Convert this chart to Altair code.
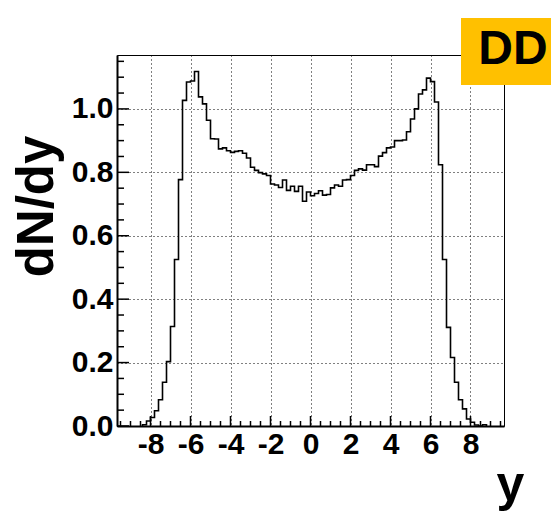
import altair as alt
import pandas as pd

# ---- data (histogram, bin width 0.2) ----
FIRST_EDGE = -8.4
BIN_WIDTH = 0.2
dndy = [0.004, 0.016, 0.027, 0.048, 0.083, 0.138, 0.203, 0.314, 0.525, 0.777,
        1.027, 1.085, 1.088, 1.118, 1.038, 1.016, 0.964, 0.906, 0.905, 0.874,
        0.877, 0.868, 0.863, 0.866, 0.868, 0.860, 0.845, 0.816, 0.806, 0.799,
        0.795, 0.790, 0.763, 0.760, 0.752, 0.776, 0.743, 0.756, 0.740, 0.756,
        0.709, 0.738,
        0.726, 0.733, 0.742, 0.728, 0.730, 0.751, 0.760, 0.756, 0.776, 0.777,
        0.790, 0.806, 0.811, 0.807, 0.824, 0.824, 0.818, 0.851, 0.862, 0.877,
        0.880, 0.900, 0.900, 0.902, 0.928, 0.968, 1.000, 1.047, 1.060, 1.097,
        1.086, 1.022, 0.824, 0.525, 0.311, 0.216, 0.138, 0.083, 0.054, 0.022,
        0.012, 0.003, 0.000, 0.004]

x_major = [-8, -6, -4, -2, 0, 2, 4, 6, 8]
x_minor = [-9.5, -9, -8.5, -7.5, -7, -6.5, -5.5, -5, -4.5, -3.5, -3, -2.5,
           -1.5, -1, -0.5, 0.5, 1, 1.5, 2.5, 3, 3.5, 4.5, 5, 5.5, 6.5, 7, 7.5,
           8.5, 9, 9.5]
y_major = [0.0, 0.2, 0.4, 0.6, 0.8, 1.0]
y_minor = [0.05, 0.1, 0.15, 0.25, 0.3, 0.35, 0.45, 0.5, 0.55, 0.65, 0.7, 0.75,
           0.85, 0.9, 0.95, 1.05, 1.1, 1.15]

X_DOMAIN = [-9.675, 9.675]
Y_DOMAIN = [0, 1.17]
W, H = 387, 371
FONT = "Liberation Sans"

# ---- histogram outline points ----
edges = [round(FIRST_EDGE + BIN_WIDTH * i, 3) for i in range(len(dndy) + 1)]
rows = [{"x": edges[0], "v": 0.0, "o": 0}]
for i, v in enumerate(dndy):
    rows.append({"x": edges[i], "v": v, "o": i + 1})
rows.append({"x": edges[-1], "v": 0.0, "o": len(dndy) + 1})
hist_df = pd.DataFrame(rows)

xs = alt.Scale(domain=X_DOMAIN, nice=False, zero=False)
ys = alt.Scale(domain=Y_DOMAIN, nice=False, zero=False)

x_axis = alt.Axis(
    values=x_major, grid=True, gridDash=[1, 3], gridColor="black", gridWidth=1,
    ticks=False, domain=True, domainColor="black", domainWidth=2,
    labelFont=FONT, labelFontSize=30, labelFontWeight="bold", labelColor="black",
    labelPadding=3, labelExpr="'' + datum.value",
    title="y", titleFont=FONT, titleFontSize=50, titleFontWeight="bold",
    titleColor="black", titleX=393, titleY=74, titleAlign="center",
    titleBaseline="alphabetic",
)
y_axis = alt.Axis(
    values=y_major, grid=True, gridDash=[1, 3], gridColor="black", gridWidth=1,
    ticks=False, domain=True, domainColor="black", domainWidth=2,
    labelFont=FONT, labelFontSize=30, labelFontWeight="bold", labelColor="black",
    labelPadding=4, format=".1f",
    title="dN/dy", titleFont=FONT, titleFontSize=51, titleFontWeight="bold",
    titleColor="black", titleAngle=270, titleX=-80, titleY=151,
    titleAlign="center", titleBaseline="middle",
)

hist = alt.Chart(hist_df).mark_line(
    interpolate="step-after", color="black", strokeWidth=1.6
).encode(
    x=alt.X("x:Q", scale=xs, axis=x_axis),
    y=alt.Y("v:Q", scale=ys, axis=y_axis),
    order="o:Q",
)

xmaj_df = pd.DataFrame({"t": x_major})
xmin_df = pd.DataFrame({"t": x_minor})
ymaj_df = pd.DataFrame({"t": y_major})
ymin_df = pd.DataFrame({"t": y_minor})

xt_major = alt.Chart(xmaj_df).mark_rule(color="black", strokeWidth=1.5).encode(
    x=alt.X("t:Q", scale=xs), y=alt.value(H), y2=alt.value(H - 10))
xt_minor = alt.Chart(xmin_df).mark_rule(color="black", strokeWidth=1.5).encode(
    x=alt.X("t:Q", scale=xs), y=alt.value(H), y2=alt.value(H - 5))
yt_major = alt.Chart(ymaj_df).mark_rule(color="black", strokeWidth=1.5).encode(
    y=alt.Y("t:Q", scale=ys), x=alt.value(0), x2=alt.value(12))
yt_minor = alt.Chart(ymin_df).mark_rule(color="black", strokeWidth=1.5).encode(
    y=alt.Y("t:Q", scale=ys), x=alt.value(0), x2=alt.value(7))

one = alt.Data(values=[{"k": 1}])
badge = alt.Chart(one).mark_rect(color="#FFC000").encode(
    x=alt.value(344), x2=alt.value(450), y=alt.value(-37), y2=alt.value(30))
badge_text = alt.Chart(one).mark_text(
    font=FONT, fontSize=48, fontWeight="bold", color="black",
    align="center", baseline="middle").encode(
    x=alt.value(396), y=alt.value(-5), text=alt.value("DD"))

chart = alt.layer(
    hist, xt_major, xt_minor, yt_major, yt_minor, badge, badge_text
).properties(
    width=W, height=H,
    padding={"left": 117, "top": 55, "right": 47, "bottom": 85},
    autosize=alt.AutoSizeParams(type="none"),
    background="white",
).configure_view(stroke="black", strokeWidth=1)

chart.save("out.html", embed_options={"renderer": "svg", "actions": False})
